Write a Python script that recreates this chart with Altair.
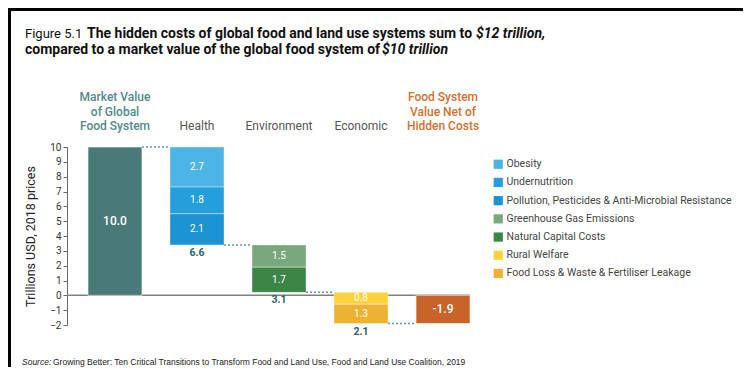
import altair as alt
import pandas as pd

# ---------------- data ----------------
categories = ["Market", "Health", "Environment", "Economic", "Net"]
headers = [
    ["Market Value", "of Global", "Food System"],
    ["Health"],
    ["Environment"],
    ["Economic"],
    ["Food System", "Value Net of", "Hidden Costs"],
]
market_value = 10.0
net_value = -1.9

components = [
    "Obesity",
    "Undernutrition",
    "Pollution, Pesticides & Anti-Microbial Resistance",
    "Greenhouse Gas Emissions",
    "Natural Capital Costs",
    "Rural Welfare",
    "Food Loss & Waste & Fertiliser Leakage",
]
component_group = ["Health", "Health", "Health", "Environment", "Environment", "Economic", "Economic"]
component_values = [2.7, 1.8, 2.1, 1.5, 1.7, 0.8, 1.3]

total_groups = ["Health", "Environment", "Economic"]
total_labels = ["6.6", "3.1", "2.1"]

y_ticks = [-2, -1, 0, 1, 2, 3, 4, 5, 6, 7, 8, 9, 10]

# ---------------- styles ----------------
component_colors = ["#4db5e5", "#23a0dc", "#1c93d3", "#79a87c", "#3d8447", "#fdd23c", "#eeb232"]
market_color = "#4a7a78"
net_color = "#c8632a"
header_colors = ["#4f8a8b", "#555555", "#555555", "#555555", "#d2702e"]
connector_color = "#5b9aaa"
FONT = "Roboto"

# ---------------- derived tables ----------------
rows = []
level = market_value
for name, grp, v in zip(components, component_group, component_values):
    rows.append({"cat": grp, "comp": name, "top": level, "bottom": level - v,
                 "mid": level - v / 2, "label": f"{v:.1f}"})
    level = level - v
comp_df = pd.DataFrame(rows)

ends = {}
for r in rows:
    ends[r["cat"]] = r["bottom"]

totals_df = pd.DataFrame({"cat": total_groups, "label": total_labels,
                          "y": [ends[g] for g in total_groups]})

ends_bars_df = pd.DataFrame({
    "cat": ["Market", "Net"],
    "top": [market_value, 0.0],
    "bottom": [0.0, net_value],
    "mid": [market_value / 2, net_value / 2],
    "label": [f"{market_value:.1f}", f"{net_value:.1f}"],
    "color": [market_color, net_color],
})

conn_df = pd.DataFrame({
    "from": categories[:-1],
    "to": categories[1:],
    "level": [market_value, ends["Health"], ends["Environment"], ends["Economic"]],
})

head_df = pd.DataFrame({"cat": categories, "text": headers, "color": header_colors,
                        "lines": [len(h) for h in headers]})
head_multi = head_df[head_df["lines"] > 1]
head_single = head_df[head_df["lines"] == 1]

# ---------------- scales ----------------
xscale = alt.Scale(domain=categories, paddingInner=0.3415, paddingOuter=0.256)
yscale = alt.Scale(domain=[-2, 10], nice=False, zero=False)
yaxis = alt.Axis(values=y_ticks, title="Trillions USD, 2018 prices", grid=False,
                 labelOverlap=False, labelFontSize=10, labelColor="#333333",
                 labelFont=FONT, tickSize=4, tickColor="#666666",
                 domainColor="#666666",
                 titleFont=FONT, titleFontSize=12.5, titleFontWeight="normal",
                 titleColor="#222222", titlePadding=12, labelPadding=2)
X = alt.X("cat:N", scale=xscale, axis=None)


def Y(field):
    return alt.Y(field, scale=yscale, axis=yaxis)


# ---------------- layers ----------------
zero_line = alt.Chart(pd.DataFrame({"v": [0]})).mark_rule(color="#808080", strokeWidth=1.5).encode(
    y=Y("v:Q"), x=alt.value(0), x2=alt.value(403),
)

end_bars = alt.Chart(ends_bars_df).mark_bar(stroke="white", strokeWidth=0.6).encode(
    x=X, y=Y("top:Q"), y2="bottom:Q",
    color=alt.Color("color:N", scale=None),
)
end_text = alt.Chart(ends_bars_df).mark_text(color="white", fontSize=12, font=FONT,
                                              fontWeight=500).encode(
    x=X, y=Y("mid:Q"), text="label:N")

comp_bars = alt.Chart(comp_df).mark_bar(stroke="white", strokeWidth=0.6, strokeOpacity=0.6).encode(
    x=X, y=Y("top:Q"), y2="bottom:Q",
    color=alt.Color("comp:N", scale=alt.Scale(domain=components, range=component_colors),
                    legend=alt.Legend(title=None, orient="none", legendX=426, legendY=12,
                                      symbolType="square", symbolSize=85, symbolStrokeWidth=0,
                                      labelFont=FONT, labelFontSize=10.5, labelColor="#444444",
                                      rowPadding=7.2, labelOffset=3, padding=0,
                                      labelLimit=400)),
)
comp_text = alt.Chart(comp_df).mark_text(color="white", fontSize=10, font=FONT).encode(
    x=X, y=Y("mid:Q"), text="label:N")

totals_text = alt.Chart(totals_df).mark_text(color="#2e5f70", fontSize=10.5, font=FONT,
                                             fontWeight="bold", baseline="top", dy=3).encode(
    x=X, y=Y("y:Q"), text="label:N")

connectors = alt.Chart(conn_df).mark_rule(color=connector_color, strokeDash=[2, 2],
                                          strokeWidth=1.5).encode(
    x=alt.X("from:N", scale=xscale, axis=None, bandPosition=1),
    x2=alt.X2("to:N", bandPosition=0),
    y=Y("level:Q"),
)

header_multi = alt.Chart(head_multi).mark_text(fontSize=12, font=FONT, baseline="alphabetic",
                                               fontWeight=500, lineHeight=14.5).encode(
    x=X, y=alt.value(-46), text="text",
    color=alt.Color("color:N", scale=None),
)
header_single = alt.Chart(head_single).mark_text(fontSize=12, font=FONT, baseline="alphabetic",
                                                 lineHeight=14.5).encode(
    x=X, y=alt.value(-17), text="text",
    color=alt.Color("color:N", scale=None),
)


def one_text(txt, px, py, size, weight="normal", style="normal", color="#111111", font=FONT):
    return alt.Chart(pd.DataFrame({"t": [txt]})).mark_text(
        align="left", baseline="alphabetic", fontSize=size, fontWeight=weight,
        fontStyle=style, color=color, font=font).encode(
        x=alt.value(px - 67), y=alt.value(py - 147), text="t:N")


TF = "Roboto"
title_layers = [
    one_text("Figure 5.1", 25, 38, 13, font=TF),
    one_text("The hidden costs of global food and land use systems sum to", 87, 38, 14, "bold", font=TF),
    one_text("$12 trillion,", 476, 38, 14, "bold", "italic", font=TF),
    one_text("compared to a market value of the global food system of", 25, 53.5, 14, "bold", font=TF),
    one_text("$10 trillion", 382, 53.5, 14, "bold", "italic", font=TF),
    one_text("Source:", 22, 364.5, 8.5, "normal", "italic", "#222222", font="Liberation Sans"),
    one_text("Growing Better: Ten Critical Transitions to Transform Food and Land Use, Food and Land Use Coalition, 2019",
             53, 364.5, 8.5, "normal", "normal", "#222222", font="Liberation Sans"),
]

frame_left = alt.Chart(pd.DataFrame({"v": [0]})).mark_rule(color="black", strokeWidth=3).encode(
    x=alt.value(9.5 - 67), y=alt.value(8 - 147), y2=alt.value(375 - 147))
frame_top = alt.Chart(pd.DataFrame({"v": [0]})).mark_rule(color="black", strokeWidth=3).encode(
    x=alt.value(8 - 67), x2=alt.value(751 - 67), y=alt.value(9.5 - 147))

chart = alt.layer(
    zero_line, end_bars, comp_bars, connectors, end_text, comp_text, totals_text,
    header_multi, header_single, frame_left, frame_top, *title_layers,
).properties(
    width=424, height=178,
    autosize=alt.AutoSizeParams(type="none"),
    padding={"left": 59, "top": 139, "right": 252, "bottom": 42},
).configure_view(stroke=None)

chart.save("out.html", embed_options={"renderer": "svg", "actions": False})
